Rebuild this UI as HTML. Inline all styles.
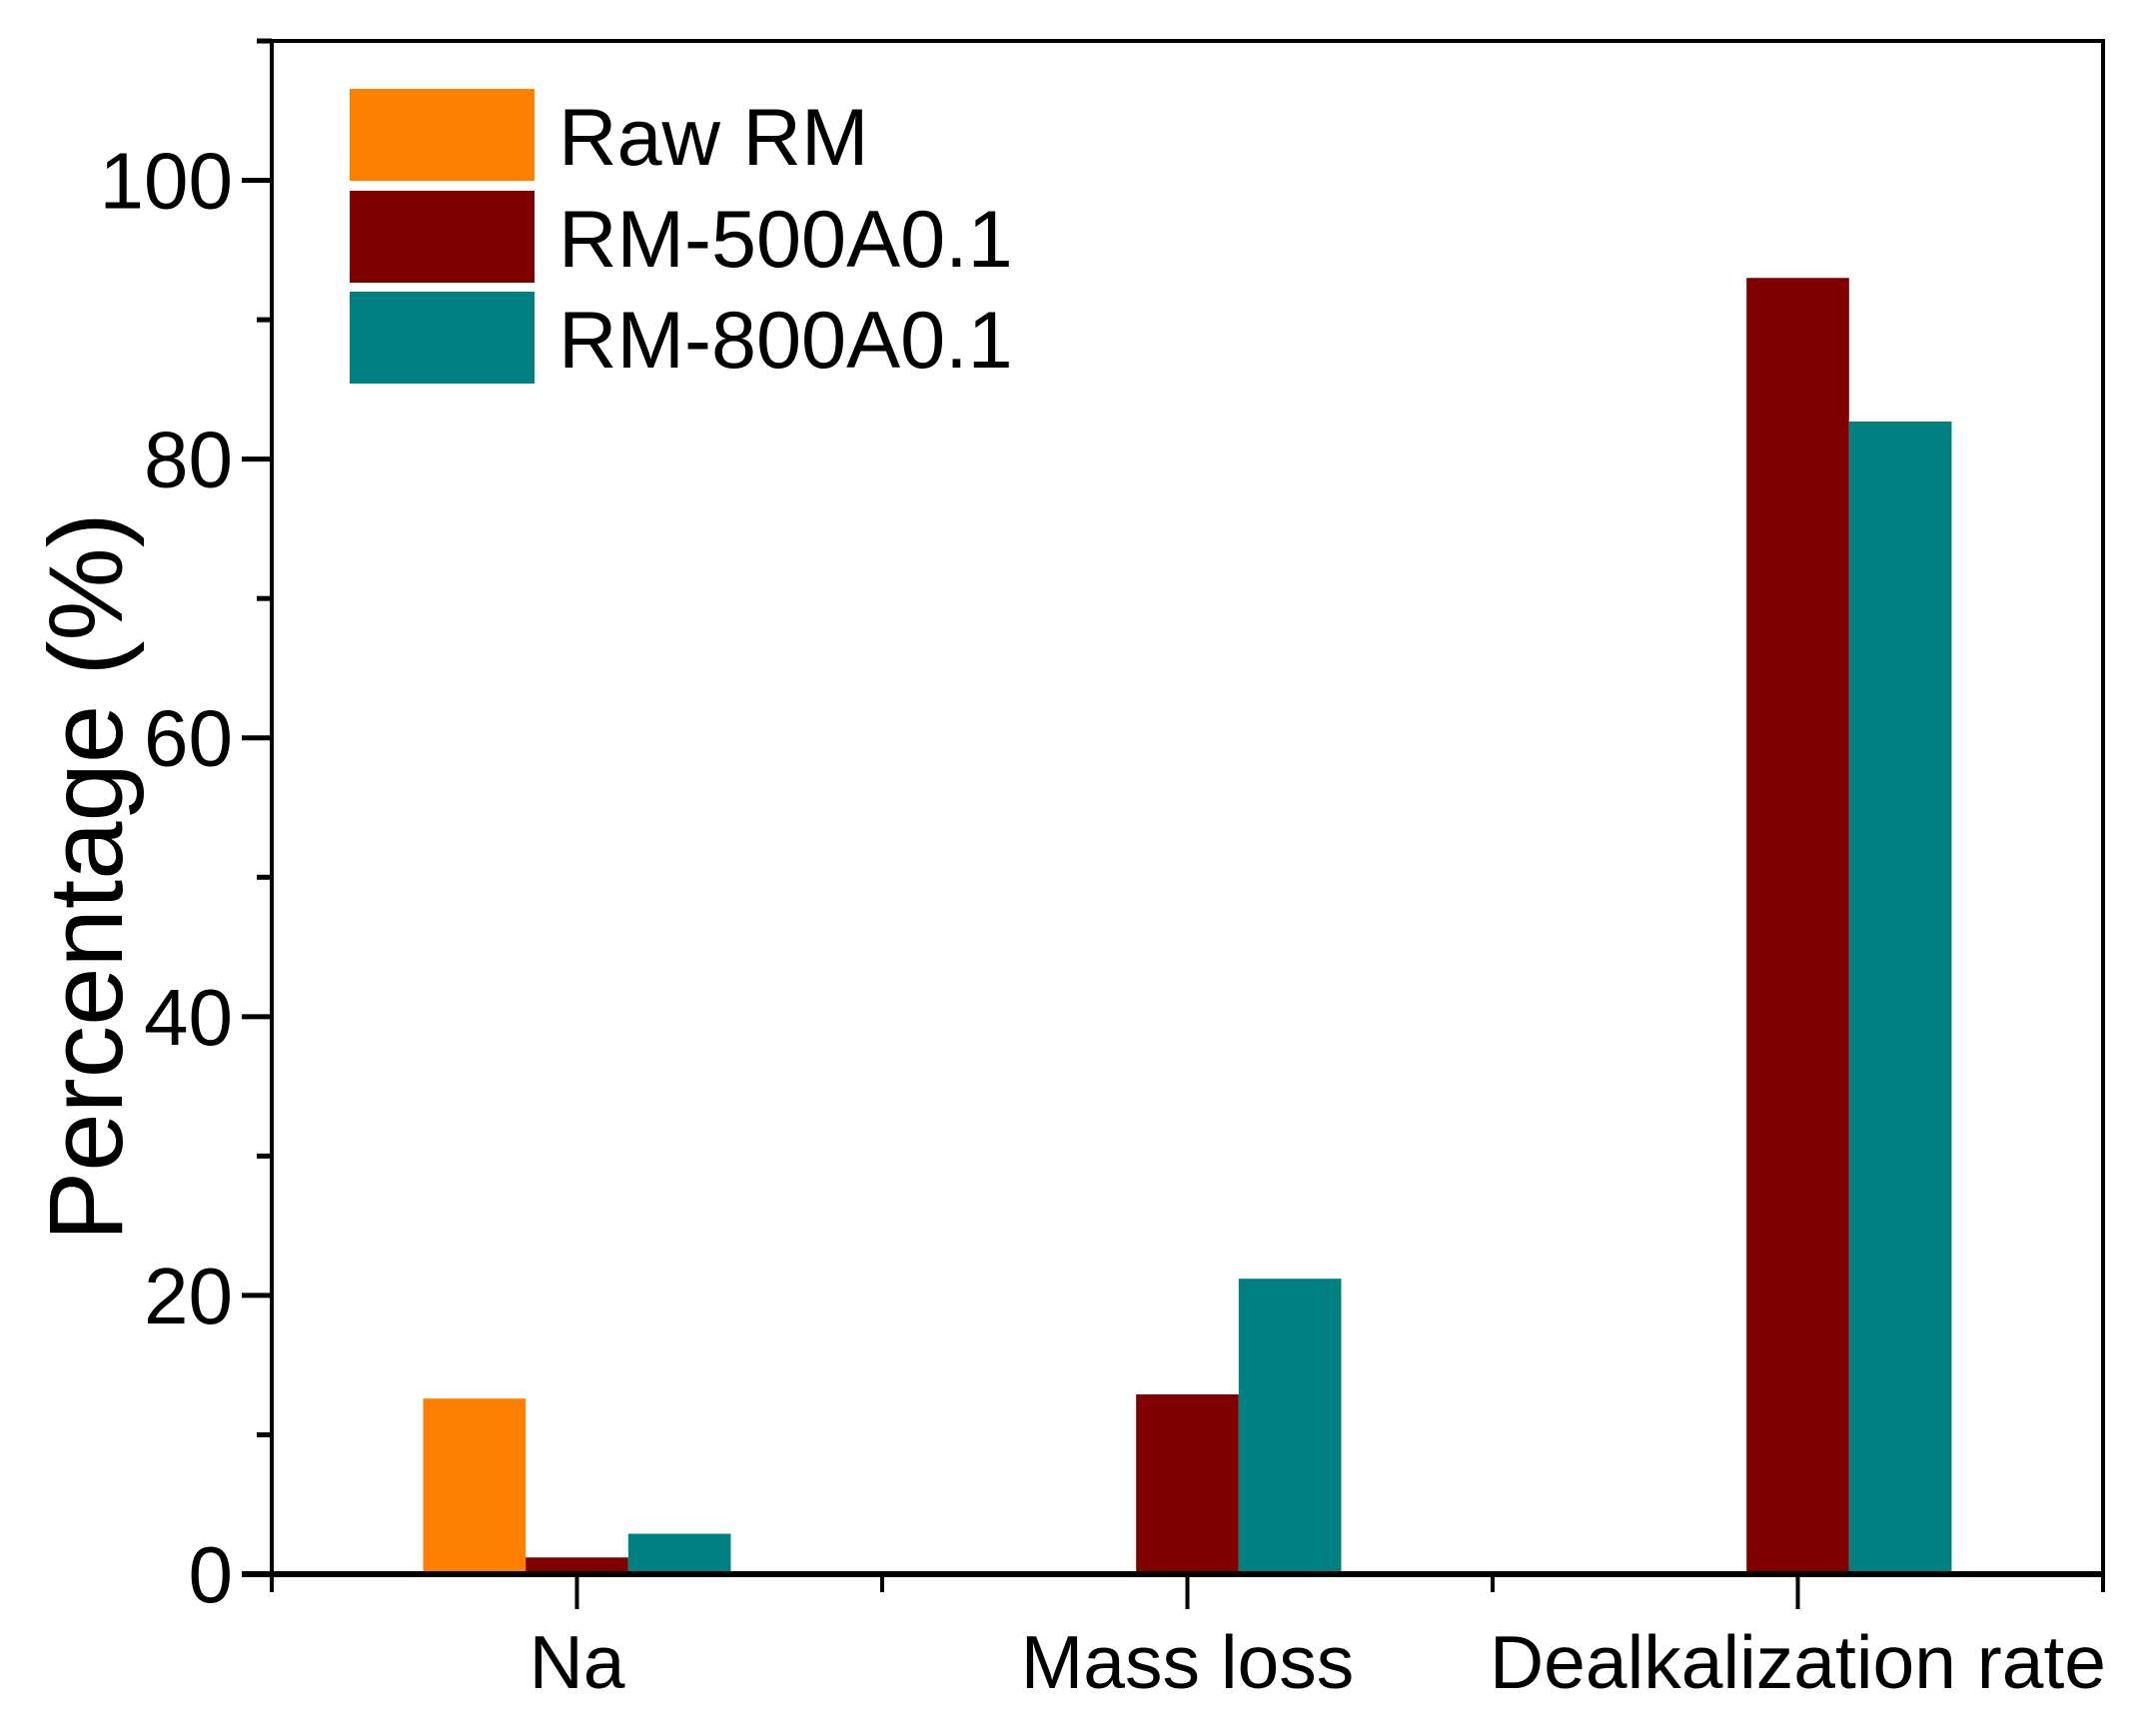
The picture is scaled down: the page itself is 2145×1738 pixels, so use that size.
<!DOCTYPE html>
<html><head><meta charset="utf-8"><style>
html,body{margin:0;padding:0;background:#fff;}
svg{display:block;font-family:"Liberation Sans",Arial,sans-serif;}
</style></head><body>
<svg id="chart" width="2145" height="1738" viewBox="0 0 2145 1738"></svg>
<script>
const categories = ["Na", "Mass loss", "Dealkalization rate"];
const seriesNames = ["Raw RM", "RM-500A0.1", "RM-800A0.1"];
const rawRM = [12.6, 0, 0];
const rm500 = [1.2, 12.9, 93.0];
const rm800 = [2.9, 21.2, 82.7];
const yTicks = [0, 20, 40, 60, 80, 100];
const colors = ["#ff8000", "#800000", "#008080"];

const svg = document.getElementById('chart');
const NS = 'http://www.w3.org/2000/svg';
const L = 272, R = 2105, T = 41, B = 1576;
const yMax = 110;
function y(v){ return B - v / yMax * (B - T); }
function x(c){ return L + (c + 0.5) / 3 * (R - L); }
const step = (R - L) / 3;
const bw = step * 0.168;
function mk(tag, attrs){ const e = document.createElementNS(NS, tag); for (const k in attrs) e.setAttribute(k, attrs[k]); svg.appendChild(e); return e; }

const series = [rawRM, rm500, rm800];
series.forEach((vals, s) => {
  vals.forEach((v, i) => {
    if (v <= 0) return;
    const cx = x(i) + (s - 1) * bw;
    const r = mk('rect', {x: cx - bw/2, y: y(v), width: bw, height: y(0) - y(v), fill: colors[s]});
    
    
  });
});

// frame
const fr = mk('rect', {x: L, y: T, width: R - L, height: B - T, fill: 'none', stroke: '#000', 'stroke-width': 4});


const xa = mk('line', {x1: L - 30, x2: R, y1: B, y2: B, stroke: '#000', 'stroke-width': 6});



// y ticks
for (let v = 0; v <= 110; v += 10) {
  const major = yTicks.indexOf(v) >= 0;
  const t = mk('line', {x1: L - (major ? 30 : 15), x2: L, y1: y(v), y2: y(v), stroke: '#000', 'stroke-width': 5});
  
  
}
yTicks.forEach(v => {
  const t = mk('text', {x: 233, y: y(v) + 28, 'text-anchor': 'end', 'font-size': 80});
  t.textContent = v;
  
  
});

// x ticks
for (let k = 0; k <= 6; k++) {
  const xx = L + k * step / 2;
  const major = k % 2 === 1;
  const t = mk('line', {x1: xx, x2: xx, y1: B, y2: B + (major ? 35 : 18), stroke: '#000', 'stroke-width': 4});
  
  
}
categories.forEach((c, i) => {
  const t = mk('text', {x: x(i), y: 1690, 'text-anchor': 'middle', 'font-size': 75});
  t.textContent = c;
  
  
});

// y title
const yt = mk('text', {x: 0, y: 0, 'text-anchor': 'middle', 'font-size': 105, transform: 'translate(122,878) rotate(-90)'});
yt.textContent = 'Percentage (%)';



// legend
const legY = [89, 191, 292];
seriesNames.forEach((n, s) => {
  const r = mk('rect', {x: 350, y: legY[s], width: 185, height: 92, fill: colors[s]});
  
  
  const t = mk('text', {x: 559, y: legY[s] + 76, 'font-size': 81});
  t.textContent = n;
  
  
});
</script>
</body></html>
